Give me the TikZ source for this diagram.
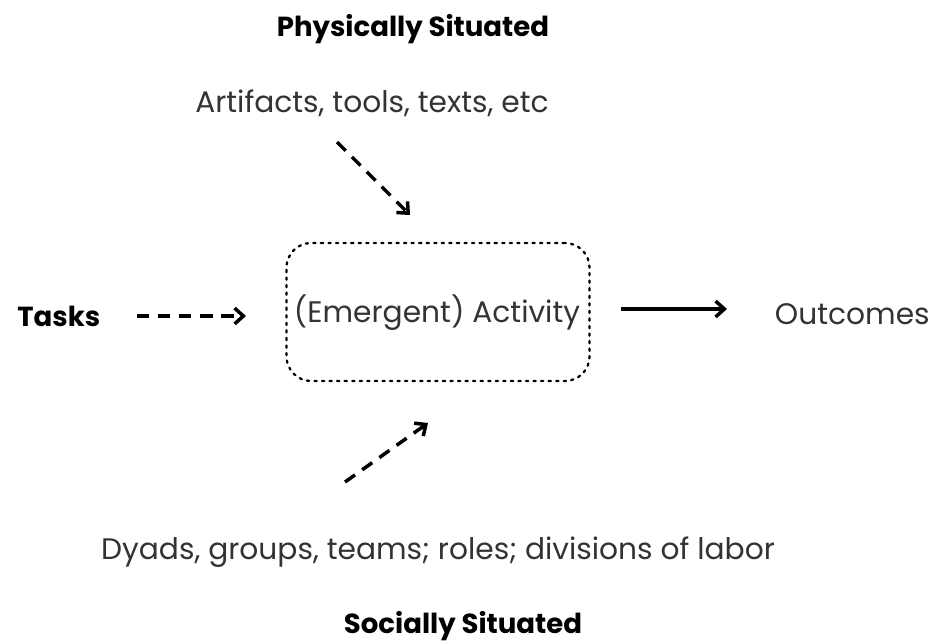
\documentclass[tikz,border=0pt]{standalone}
\usepackage{fontspec}
\setmainfont{Poppins}
\usetikzlibrary{arrows.meta}
\begin{document}
\begin{tikzpicture}[x=0.02cm,y=-0.02cm,
  lbl/.style={font=\fontsize{16.9}{20}\selectfont, text=black!80, inner sep=0pt},
  hd/.style={font=\bfseries\fontsize{15.7}{19}\selectfont, text=black, inner sep=0pt},
  dasharr/.style={line width=2pt, dash pattern=on 7pt off 5pt, -{Straight Barb[length=5pt,width=9pt,line width=2pt]}},
  solarr/.style={line width=2pt, -{Straight Barb[length=5pt,width=9pt,line width=2pt]}},
  boxst/.style={draw, line width=1.3pt, dash pattern=on 1.3pt off 3pt, line cap=round, rounded corners=14pt, minimum width=303*0.02cm, minimum height=138*0.02cm}]
\useasboundingbox (0,0) rectangle (935,642);
\node[hd] (phys) at (413,29) {Physically Situated};
\node[lbl] (art) at (372,103) {Artifacts, tools, texts, etc};
\node[boxst] (box) at (438,312) {};
\node[lbl] (act) at (437,313) {(Emergent) Activity};
\node[hd, anchor=west] (tasks) at (17,316) {Tasks};
\node[lbl, anchor=east] (out) at (930,314) {Outcomes};
\node[lbl] (dy) at (438,552) {Dyads, groups, teams; roles; divisions of labor};
\node[hd] (soc) at (463,626) {Socially Situated};
\coordinate (a1s) at (337,142);
\coordinate (a1e) at (410,215);
\coordinate (a2s) at (137,316);
\coordinate (a2e) at (246,316);
\coordinate (a3s) at (621,309);
\coordinate (a3e) at (727,309);
\coordinate (a4s) at (345,482);
\coordinate (a4e) at (428,423);
\draw[dasharr] (a1s) -- (a1e);
\draw[dasharr] (a2s) -- (a2e);
\draw[solarr] (a3s) -- (a3e);
\draw[dasharr] (a4s) -- (a4e);
\end{tikzpicture}
\end{document}
